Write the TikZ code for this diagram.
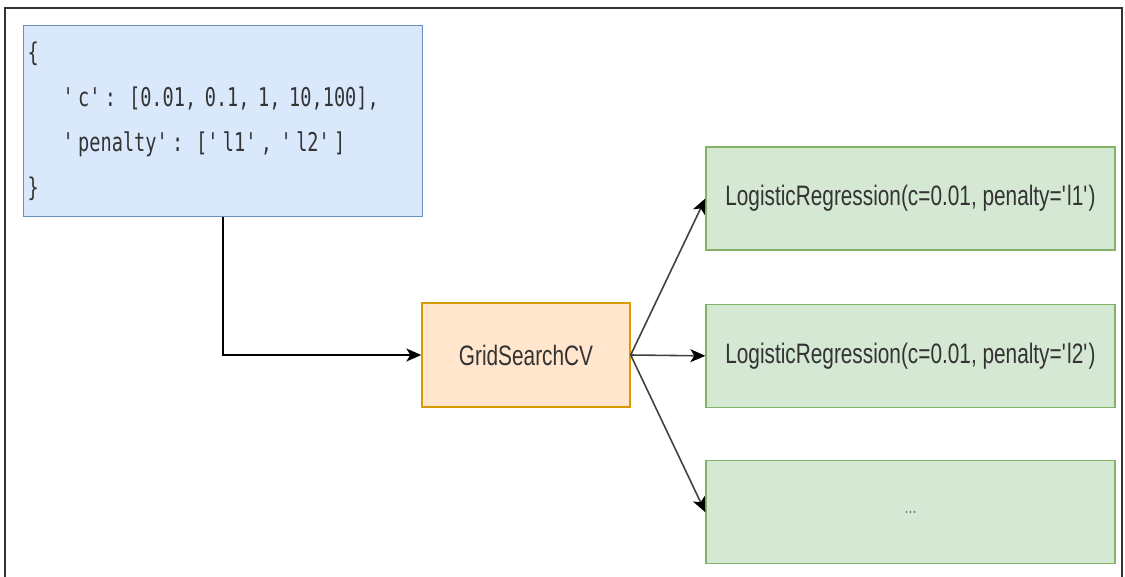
\documentclass[tikz,border=0pt]{standalone}
\usepackage{fontspec}
\setmainfont{Liberation Sans}
\newfontfamily\boxfont[FakeStretch=0.74]{Liberation Sans}
\setmonofont[FakeStretch=0.72]{DejaVu Sans Mono}
\usetikzlibrary{positioning}
\usetikzlibrary{arrows.meta}

\definecolor{paramfill}{HTML}{DAE8FC}
\definecolor{paramline}{HTML}{6C8EBF}
\definecolor{gridfill}{HTML}{FFE6CC}
\definecolor{gridline}{HTML}{D79B00}
\definecolor{modelfill}{HTML}{D5E8D4}
\definecolor{modelline}{HTML}{82B366}
\definecolor{textgray}{HTML}{333333}

\begin{document}
\begin{tikzpicture}[x=0.02cm,y=-0.02cm,
  param/.style={rectangle,draw=paramline,fill=paramfill,line width=0.8pt,text width=7.82cm,inner xsep=0.08cm,minimum height=3.82cm,align=left,text=textgray,font=\ttfamily\fontsize{14.7}{25.5}\selectfont},
  grid/.style={rectangle,draw=gridline,fill=gridfill,line width=0.8pt,minimum width=4.16cm,minimum height=2.08cm,text=textgray,font=\boxfont\fontsize{16}{19}\selectfont},
  model/.style={rectangle,draw=modelline,fill=modelfill,line width=0.8pt,minimum width=8.18cm,minimum height=2.06cm,text=textgray,font=\boxfont\fontsize{16}{19}\selectfont},
  link/.style={line width=0.9pt,-{Stealth[length=0.3cm,width=0.26cm,inset=0.08cm,black]}}]
\useasboundingbox (0,0) rectangle (1125,577);
\draw[line width=1.1pt,draw=black!80] (5,8) rectangle (1122,600);

\node[param,anchor=north west] (params) at (23,25) {\{\\
\hspace*{0.7cm}\textquotesingle c\textquotesingle: [0.01, 0.1, 1, 10,100],\\
\hspace*{0.7cm}\textquotesingle penalty\textquotesingle: [\textquotesingle l1\textquotesingle, \textquotesingle l2\textquotesingle]\\
\}};
\node[grid] (grid) at (526,355) {GridSearchCV};
\node[model] (m1) at (910.5,198.5) {LogisticRegression(c=0.01, penalty=\textquotesingle l1\textquotesingle)};
\node[model,below=1.06cm of m1] (m2) {LogisticRegression(c=0.01, penalty=\textquotesingle l2\textquotesingle)};
\node[model,below=1.04cm of m2] (m3) {\textcolor{black!55}{\fontsize{11}{13}\selectfont ...}};

\draw[link,draw=black] (params.south) |- (grid.west);
\draw[link,draw=black!75] (grid.east) -- (m1.west);
\draw[link,draw=black!75] (grid.east) -- (m2.west);
\draw[link,draw=black!75] (grid.east) -- (m3.west);

\end{tikzpicture}
\end{document}
